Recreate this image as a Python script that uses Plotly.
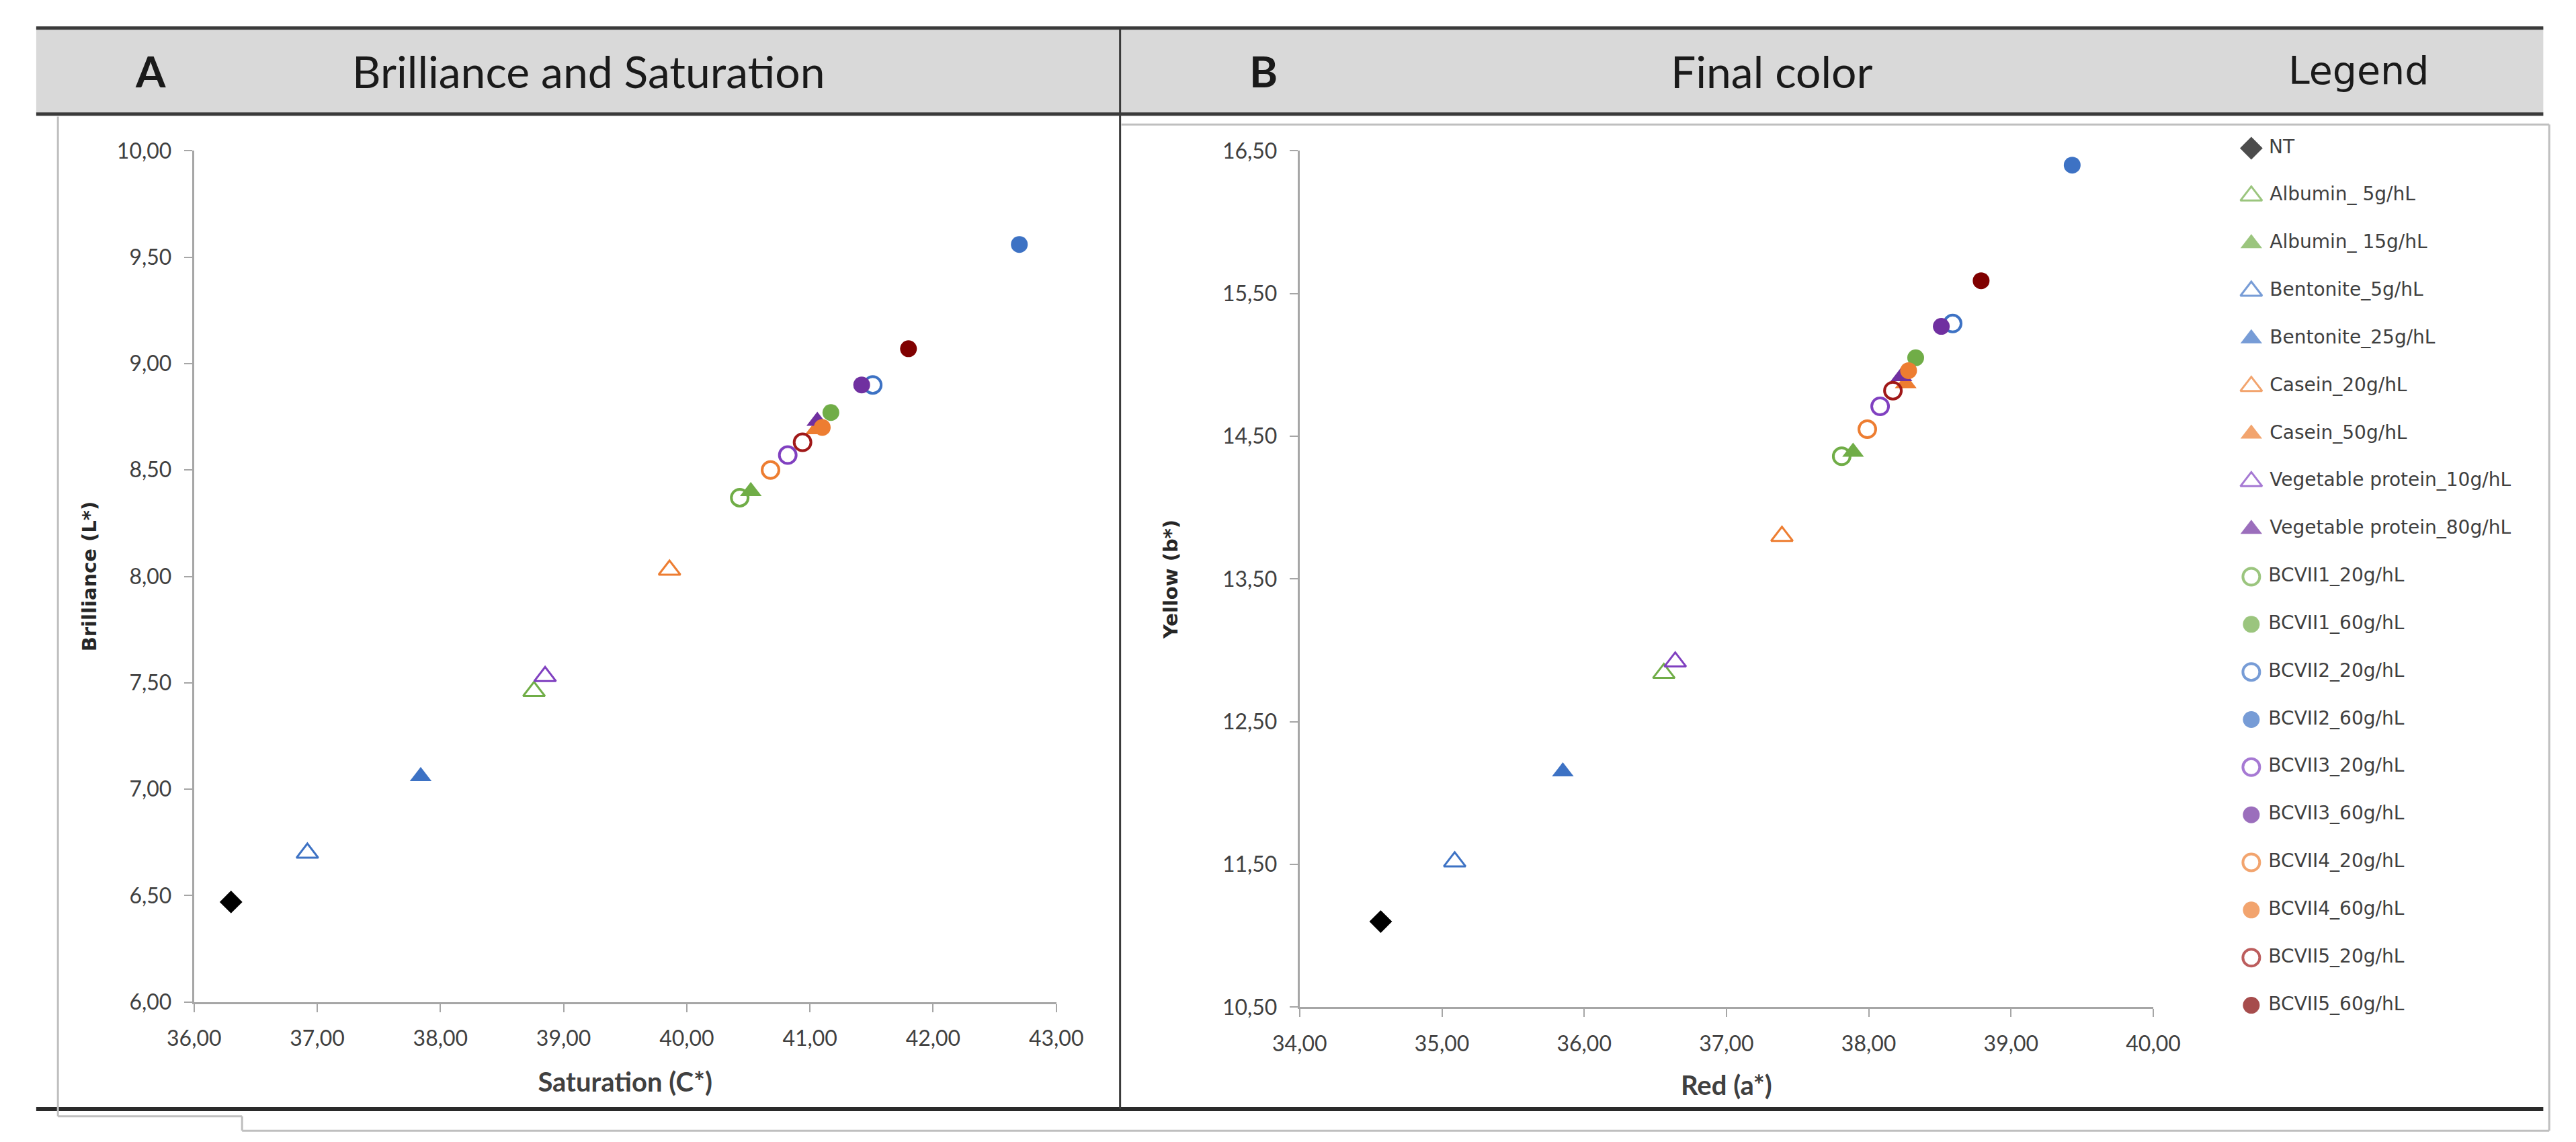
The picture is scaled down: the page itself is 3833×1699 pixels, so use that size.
import plotly.graph_objects as go

W, H = 3833, 1699

# ---- data ----
series = [
    "NT", "Albumin_ 5g/hL", "Albumin_ 15g/hL", "Bentonite_5g/hL", "Bentonite_25g/hL",
    "Casein_20g/hL", "Casein_50g/hL", "Vegetable protein_10g/hL", "Vegetable protein_80g/hL",
    "BCVII1_20g/hL", "BCVII1_60g/hL", "BCVII2_20g/hL", "BCVII2_60g/hL",
    "BCVII3_20g/hL", "BCVII3_60g/hL", "BCVII4_20g/hL", "BCVII4_60g/hL",
    "BCVII5_20g/hL", "BCVII5_60g/hL",
]

# panel A: saturation (C*) vs brilliance (L*)
sat_c = [36.30, 38.76, 40.52, 36.92, 37.84, 39.86, 41.05, 38.85, 41.06,
         40.43, 41.17, 41.51, 42.70, 40.82, 41.42, 40.68, 41.10, 40.94, 41.80]
bril_l = [6.47, 7.46, 8.40, 6.70, 7.06, 8.03, 8.69, 7.53, 8.73,
          8.37, 8.77, 8.90, 9.56, 8.57, 8.90, 8.50, 8.70, 8.63, 9.07]

# panel B: red (a*) vs yellow (b*)
red_a = [34.57, 36.56, 37.89, 35.09, 35.85, 37.39, 38.26, 36.64, 38.23,
         37.81, 38.33, 38.59, 39.43, 38.08, 38.51, 37.99, 38.28, 38.17, 38.79]
yel_b = [11.10, 12.84, 14.39, 11.52, 12.15, 13.80, 14.87, 12.92, 14.92,
         14.36, 15.05, 15.29, 16.40, 14.71, 15.27, 14.55, 14.96, 14.82, 15.59]

# ---- marker styles ----
GREEN, BLUE, ORANGE = "#70AD47", "#3D72C4", "#ED7D31"
PURPLE, PURPLE_L, RED_O, RED_F = "#7030A0", "#8040C0", "#A01818", "#800000"

symbols = ["diamond",
           "triangle-up-open", "triangle-up", "triangle-up-open", "triangle-up",
           "triangle-up-open", "triangle-up", "triangle-up-open", "triangle-up",
           "circle-open", "circle", "circle-open", "circle",
           "circle-open", "circle", "circle-open", "circle",
           "circle-open", "circle"]
colors = ["#000000",
          GREEN, GREEN, BLUE, BLUE, ORANGE, ORANGE, PURPLE_L, PURPLE,
          GREEN, GREEN, BLUE, BLUE, PURPLE_L, PURPLE, ORANGE, ORANGE, RED_O, RED_F]


def msize(sym):
    if sym.startswith("triangle"):
        return 28
    if sym == "diamond":
        return 26
    return 25


def lwidth(sym):
    return (4 if sym.startswith("circle") else 3) if sym.endswith("-open") else 0


def px_x(p):
    return p / W


def px_y(p):
    return 1 - p / H


fig = go.Figure()

for i, name in enumerate(series):
    mk = dict(symbol=symbols[i], color=colors[i], size=msize(symbols[i]),
              line=dict(color=colors[i], width=lwidth(symbols[i])))
    fig.add_trace(go.Scatter(x=[sat_c[i]], y=[bril_l[i]], mode="markers", name=name,
                             marker=mk, showlegend=False, xaxis="x", yaxis="y"))
    fig.add_trace(go.Scatter(x=[red_a[i]], y=[yel_b[i]], mode="markers", name=name,
                             marker=mk, showlegend=False, xaxis="x2", yaxis="y2"))

# hand-built legend column, to get Excel-sized symbols and spacing
fig.add_trace(go.Scatter(
    x=[0] * len(series), y=list(range(len(series))), mode="markers+text",
    text=[" " + s for s in series], textposition="middle right",
    textfont=dict(family="DejaVu Sans", size=28, color="#404040"),
    marker=dict(symbol=symbols, color=colors, size=[msize(s) for s in symbols],
                line=dict(color=colors, width=[lwidth(s) for s in symbols])),
    cliponaxis=False, showlegend=False, hoverinfo="skip", xaxis="x3", yaxis="y3",
))

tick_font = dict(family="Lato", size=32, color="#404040")
axis_common = dict(
    showline=True, linecolor="#A6A6A6", linewidth=3,
    ticks="outside", ticklen=12, tickwidth=2, tickcolor="#A6A6A6",
    showgrid=False, zeroline=False, tickformat=".2f", tickfont=tick_font,
    ticklabelstandoff=12,
)
xtitle_font = dict(family="Lato", size=40, color="#404040")
ytitle_font = dict(family="DejaVu Sans", size=29, color="#262626")

fig.update_layout(
    width=W, height=H, margin=dict(l=0, r=0, t=0, b=0),
    paper_bgcolor="white", plot_bgcolor="white",
    separators=",.", showlegend=False,
    xaxis=dict(domain=[px_x(245), px_x(1556)], range=[36, 43], dtick=1, anchor="y",
               title=dict(text="<b>Saturation (C*)</b>", font=xtitle_font, standoff=34),
               **axis_common),
    yaxis=dict(domain=[px_y(1496), px_y(200)], range=[6, 10], dtick=0.5, anchor="x",
               title=dict(text="<b>Brilliance (L*)</b>", font=ytitle_font, standoff=22),
               **axis_common),
    xaxis2=dict(domain=[px_x(1926), px_x(3224)], range=[34, 40], dtick=1, anchor="y2",
                title=dict(text="<b>Red (a*)</b>", font=xtitle_font, standoff=32),
                **axis_common),
    yaxis2=dict(domain=[px_y(1504), px_y(200)], range=[10.5, 16.5], dtick=1, tick0=10.5,
                anchor="x2",
                title=dict(text="<b>Yellow (b*)</b>", font=ytitle_font, standoff=58),
                **axis_common),
    xaxis3=dict(domain=[px_x(3373), px_x(3820)], range=[0, 1], visible=False, anchor="y3"),
    yaxis3=dict(domain=[px_y(1501), px_y(196)], range=[18, 0], visible=False, anchor="x3"),
)

# ---- header band and frame lines (paper coords) ----
paper = dict(xref="paper", yref="paper")
shapes = [
    dict(type="rect", x0=px_x(5), x1=px_x(3817), y0=px_y(146), y1=px_y(12),
         fillcolor="#D9D9D9", line=dict(width=0), layer="below", **paper),
    dict(type="line", x0=px_x(5), x1=px_x(3817), y0=px_y(13), y1=px_y(13),
         line=dict(color="#3A3A3A", width=5), **paper),
    dict(type="line", x0=px_x(5), x1=px_x(3817), y0=px_y(144), y1=px_y(144),
         line=dict(color="#3A3A3A", width=5), **paper),
    dict(type="line", x0=px_x(5), x1=px_x(3817), y0=px_y(1659), y1=px_y(1659),
         line=dict(color="#2A2A2A", width=6), **paper),
    dict(type="line", x0=px_x(1653), x1=px_x(1653), y0=px_y(12), y1=px_y(1659),
         line=dict(color="#3A3A3A", width=3), **paper),
]
light = dict(color="#BFBFBF", width=3)
frame_pts = [(38, 148, 38, 1670), (38, 1670, 318, 1670), (318, 1670, 318, 1692),
             (318, 1692, 3826, 1692), (3826, 160, 3826, 1692), (1655, 160, 3826, 160)]
for x0, y0, x1, y1 in frame_pts:
    shapes.append(dict(type="line", x0=px_x(x0), x1=px_x(x1), y0=px_y(y0), y1=px_y(y1),
                       line=light, **paper))
fig.update_layout(shapes=shapes)

# ---- header texts ----
headers = [
    ("<b>A</b>", 179, "Lato", 64),
    ("Brilliance and Saturation", 845, "Lato", 66),
    ("<b>B</b>", 1871, "Lato", 64),
    ("Final color", 2644, "Lato", 66),
    ("Legend", 3536, "DejaVu Sans", 57),
]
for text, x, fam, size in headers:
    fig.add_annotation(x=px_x(x), y=px_y(78), xref="paper", yref="paper", text=text,
                       showarrow=False, xanchor="center", yanchor="middle",
                       font=dict(family=fam, size=size, color="#1A1A1A"))

fig.write_html("out.html")
